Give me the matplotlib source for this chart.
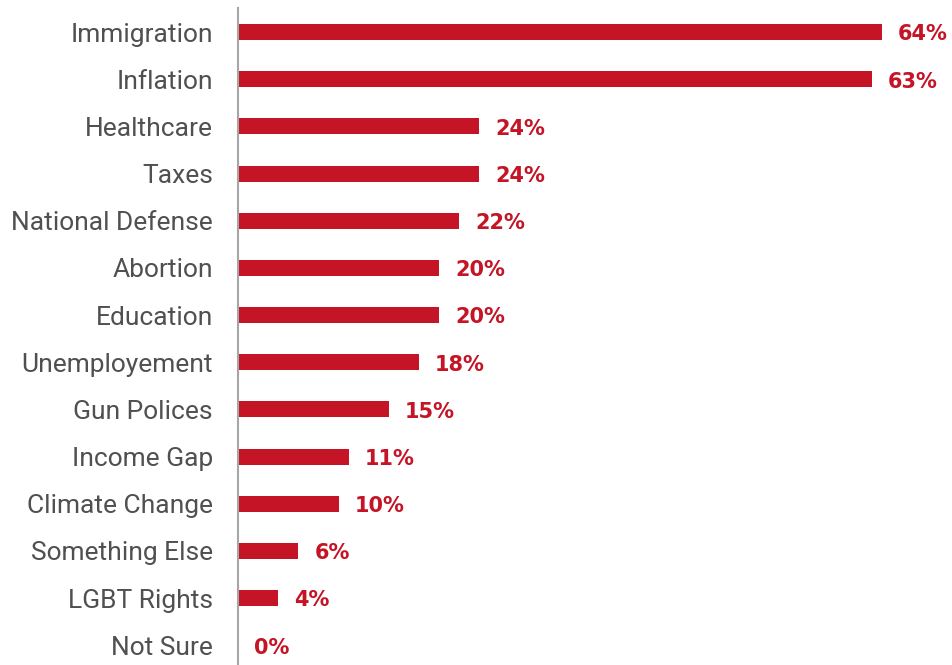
import matplotlib.pyplot as plt

categories = ["Immigration", "Inflation", "Healthcare", "Taxes", "National Defense",
              "Abortion", "Education", "Unemployement", "Gun Polices", "Income Gap",
              "Climate Change", "Something Else", "LGBT Rights", "Not Sure"]
values = [64, 63, 24, 24, 22, 20, 20, 18, 15, 11, 10, 6, 4, 0]
labels = [f"{v}%" for v in values]

red = "#C41426"

fig = plt.figure(figsize=(9.53, 6.65), dpi=100)
ax = fig.add_axes([238 / 953, 0, 715 / 953, 657 / 665])

pos = list(range(len(categories)))
ax.barh(pos, values, height=0.34, color=red)
for p, v, lab in zip(pos, values, labels):
    ax.text(v + 1.6, p + 0.05, lab, ha="left", va="center", color=red,
            fontsize=15, fontweight="bold", family="DejaVu Sans")

ax.set_xlim(0, 71.1)
ax.set_ylim(13.42, -0.51)
ax.set_yticks(pos)
ax.set_yticklabels(categories, fontsize=19, color="#505050", family="Roboto")
ax.tick_params(axis="y", length=0, pad=18)
ax.set_xticks([])
for s in ["top", "right", "bottom"]:
    ax.spines[s].set_visible(False)
ax.spines["left"].set_color("#A6A6A6")
ax.spines["left"].set_linewidth(1.5)

fig.savefig("out.png", dpi=100)
